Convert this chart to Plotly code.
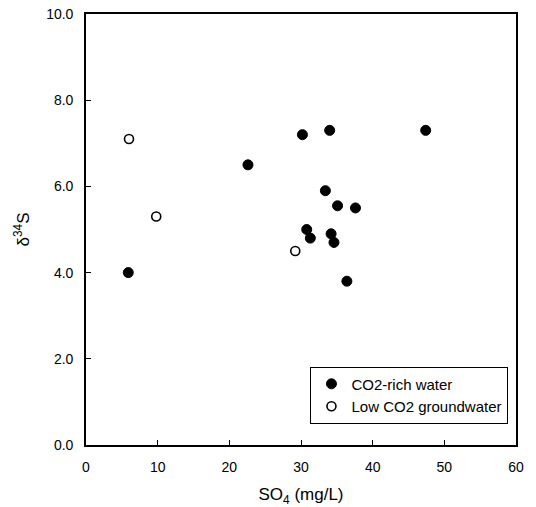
import plotly.graph_objects as go

# CO2-rich water (filled circles)
rich_so4 = [5.9, 22.6, 30.2, 34.0, 47.4, 33.4, 35.1, 37.6, 30.8, 31.3, 34.2, 34.6, 36.4]
rich_d34s = [4.0, 6.5, 7.2, 7.3, 7.3, 5.9, 5.55, 5.5, 5.0, 4.8, 4.9, 4.7, 3.8]

# Low CO2 groundwater (open circles)
low_so4 = [6.0, 9.8, 29.2]
low_d34s = [7.1, 5.3, 4.5]

x_ticks = [0, 10, 20, 30, 40, 50, 60]
y_ticks = [0, 2, 4, 6, 8, 10]

FONT = "Liberation Sans, Arial, sans-serif"

fig = go.Figure()
fig.add_trace(go.Scatter(
    x=rich_so4, y=rich_d34s, mode="markers", name="CO2-rich water",
    marker=dict(symbol="circle", size=10, color="black", line=dict(color="black", width=1)),
))
fig.add_trace(go.Scatter(
    x=low_so4, y=low_d34s, mode="markers", name="Low CO2 groundwater",
    marker=dict(symbol="circle", size=9, color="white", line=dict(color="black", width=1.6)),
))

axis_common = dict(
    showline=True, linecolor="black", linewidth=1.6, mirror=True,
    ticks="inside", ticklen=5, tickwidth=1.2, tickcolor="black",
    showgrid=False, zeroline=False, automargin=False,
    tickfont=dict(family=FONT, size=14, color="black"),
)

fig.update_xaxes(
    range=[0, 60], tickvals=x_ticks, ticktext=[str(v) for v in x_ticks],
    title=dict(text="SO<sub>4</sub> (mg/L)", font=dict(family=FONT, size=17, color="black"), standoff=16),
    ticklabelstandoff=8,
    **axis_common,
)
fig.update_yaxes(
    range=[0, 10], tickvals=y_ticks, ticktext=[f"{v:.1f}" for v in y_ticks],
    title=dict(text="δ<sup>34</sup>S", font=dict(family=FONT, size=17, color="black"), standoff=12),
    ticklabelstandoff=8,
    **axis_common,
)

fig.update_layout(
    width=536, height=507,
    margin=dict(l=86, r=20, t=14, b=62),
    paper_bgcolor="white", plot_bgcolor="white",
    font=dict(family=FONT, color="black"),
    legend=dict(
        x=0.522, y=0.182, xanchor="left", yanchor="top",
        bgcolor="white", bordercolor="black", borderwidth=1,
        font=dict(family=FONT, size=15, color="black"),
        tracegroupgap=0, itemwidth=30,
    ),
    showlegend=True,
)

fig.write_html("out.html")
